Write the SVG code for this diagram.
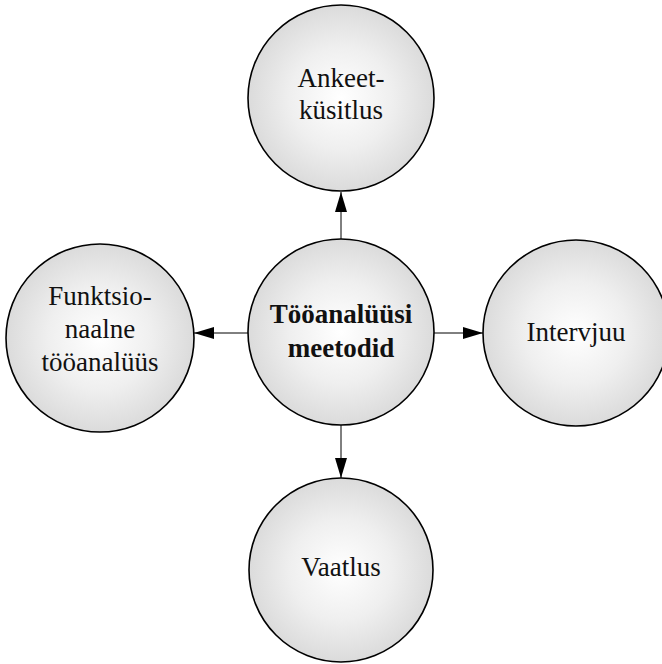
<svg xmlns="http://www.w3.org/2000/svg" width="662" height="664" viewBox="0 0 662 664">
  <style>
    .node { fill: url(#shade); stroke: #000; stroke-width: 1.6; }
    .label { font-family: "Liberation Serif", "Times New Roman", serif; font-size: 27px; fill: #111; text-anchor: middle; }
    .bold { font-weight: bold; }
    .link { stroke: #000; stroke-width: 1; fill: none; marker-end: url(#head); }
  </style>
  <defs>
    <radialGradient id="shade" cx="50%" cy="50%" r="50%">
      <stop offset="0" stop-color="#ffffff"/>
      <stop offset="0.55" stop-color="#efefef"/>
      <stop offset="1" stop-color="#dbdbdb"/>
    </radialGradient>
    <marker id="head" viewBox="0 0 20 12" refX="20" refY="6" markerWidth="20" markerHeight="12" markerUnits="userSpaceOnUse" orient="auto">
      <path d="M0,0 L20,6 L0,12 Z" fill="#000"/>
    </marker>
  </defs>

  <!-- connectors from the central node outward -->
  <g id="connectors">
    <line class="link" x1="341" y1="240" x2="341" y2="192"/>
    <line class="link" x1="248" y1="333" x2="194" y2="333"/>
    <line class="link" x1="434" y1="333" x2="483" y2="333"/>
    <line class="link" x1="341" y1="425" x2="341" y2="478"/>
  </g>

  <g id="node-center">
    <circle class="node" cx="341" cy="332" r="93"/>
    <text class="label bold" x="341" y="323">Tööanalüüsi</text>
    <text class="label bold" x="341" y="357">meetodid</text>
  </g>

  <g id="node-top">
    <circle class="node" cx="341" cy="98" r="93"/>
    <text class="label" x="341" y="87">Ankeet-</text>
    <text class="label" x="341" y="119">küsitlus</text>
  </g>

  <g id="node-left">
    <circle class="node" cx="100" cy="338" r="94"/>
    <text class="label" x="100" y="305">Funktsio-</text>
    <text class="label" x="100" y="338">naalne</text>
    <text class="label" x="100" y="371">tööanalüüs</text>
  </g>

  <g id="node-right">
    <circle class="node" cx="576" cy="333" r="93"/>
    <text class="label" x="576" y="341">Intervjuu</text>
  </g>

  <g id="node-bottom">
    <circle class="node" cx="341" cy="570" r="92"/>
    <text class="label" x="341" y="576">Vaatlus</text>
  </g>
</svg>
